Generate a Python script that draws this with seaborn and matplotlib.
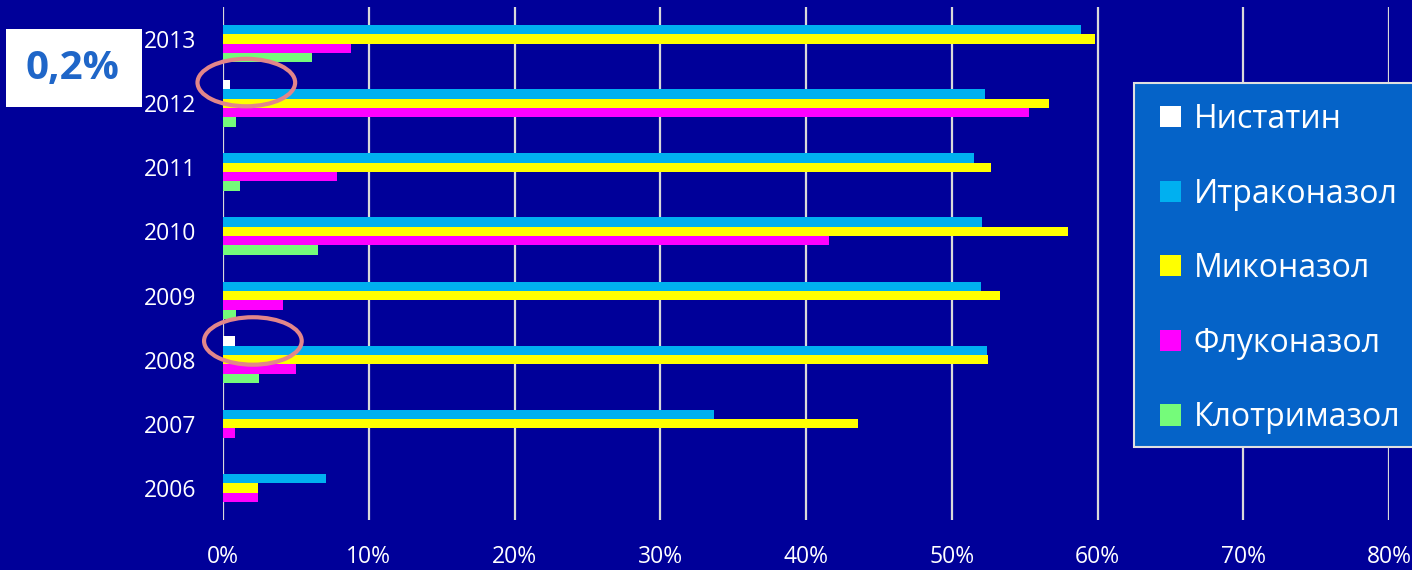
import matplotlib
matplotlib.use("Agg")
import matplotlib.pyplot as plt
import seaborn as sns
import pandas as pd
from matplotlib.patches import Ellipse, Patch, Rectangle

years = ["2013", "2012", "2011", "2010", "2009", "2008", "2007", "2006"]
drugs = ["Нистатин", "Итраконазол", "Миконазол", "Флуконазол", "Клотримазол"]
nystatin = [0.0, 0.5, 0.0, 0.0, 0.0, 0.85, 0.0, 0.0]
itraconazole = [58.9, 52.3, 51.5, 52.1, 52.0, 52.4, 33.7, 7.1]
miconazole = [59.8, 56.7, 52.7, 58.0, 53.3, 52.5, 43.6, 2.4]
fluconazole = [8.8, 55.3, 7.8, 41.6, 4.1, 5.0, 0.8, 2.4]
clotrimazole = [6.1, 0.9, 1.2, 6.5, 0.9, 2.5, 0.0, 0.0]
xticks = [0, 10, 20, 30, 40, 50, 60, 70, 80]
note_text = "0,2%"

colors = ["#FFFFFF", "#00B0F0", "#FFFF00", "#FF00FF", "#75FB7A"]
bg = "#000099"

rows = []
for d, vals in zip(drugs, [nystatin, itraconazole, miconazole, fluconazole, clotrimazole]):
    for y, v in zip(years, vals):
        rows.append({"year": y, "drug": d, "value": v})
df = pd.DataFrame(rows)

sns.set_style("white")
plt.rcParams["font.family"] = ["Open Sans", "DejaVu Sans"]

fig = plt.figure(figsize=(14.12, 5.70), dpi=100, facecolor=bg)
ax = fig.add_axes([223 / 1412, 50 / 570, 1166 / 1412, 513 / 570])
ax.set_facecolor(bg)

sns.barplot(data=df, y="year", x="value", hue="drug", order=years, hue_order=drugs,
            palette=colors, orient="h", width=0.73, ax=ax, legend=False,
            saturation=1, linewidth=0)

ax.set_xlim(0, 80)
ax.set_ylim(7.5, -0.5)
ax.set_xticks(xticks)
ax.set_xticklabels([f"{t}%" for t in xticks])
ax.xaxis.grid(True, color="#D9D9D9", linewidth=1.6)
ax.set_axisbelow(True)
for s in ax.spines.values():
    s.set_visible(False)
ax.tick_params(axis="y", length=0, pad=19, labelsize=16.5, labelcolor="white")
ax.tick_params(axis="x", length=0, pad=18, labelsize=16.5, labelcolor="white")
ax.set_xlabel("")
ax.set_ylabel("")

# highlight ellipses around the nystatin bars
off = 0.73 / 5 * 2
for yi, xc, dy in [(1, 1.6, -0.03), (5, 2.05, 0.0)]:
    ax.add_patch(Ellipse((xc, yi - off + dy), 6.7, 0.74, fill=False,
                         edgecolor="#E2868A", linewidth=3, clip_on=False, zorder=5))

# note box
fig.patches.append(Rectangle((6 / 1412, 1 - 107 / 570), 136 / 1412, 78 / 570,
                             transform=fig.transFigure, facecolor="white",
                             edgecolor="none", zorder=3))
fig.text(72 / 1412, 1 - 68 / 570, note_text, ha="center", va="center",
         fontsize=29, fontweight="bold", color="#1F66C8", zorder=4)

# legend frame (extends past the right edge)
fig.patches.append(Rectangle((1134 / 1412, 1 - 447 / 570), 320 / 1412, 364 / 570,
                             transform=fig.transFigure, facecolor="#0563C8",
                             edgecolor="#E0E0E0", linewidth=1.5, zorder=3))
handles = [Patch(facecolor=c, edgecolor="none") for c in colors]
leg = fig.legend(handles, drugs, loc="upper left",
                 bbox_to_anchor=(1160 / 1412, 1 - 103 / 570), borderaxespad=0,
                 borderpad=0, fontsize=23, frameon=False,
                 handlelength=0.65, handleheight=0.65,
                 handletextpad=0.4, labelspacing=1.3, labelcolor="white")
leg.set_zorder(4)

fig.savefig("out.png", dpi=100, facecolor=bg)
